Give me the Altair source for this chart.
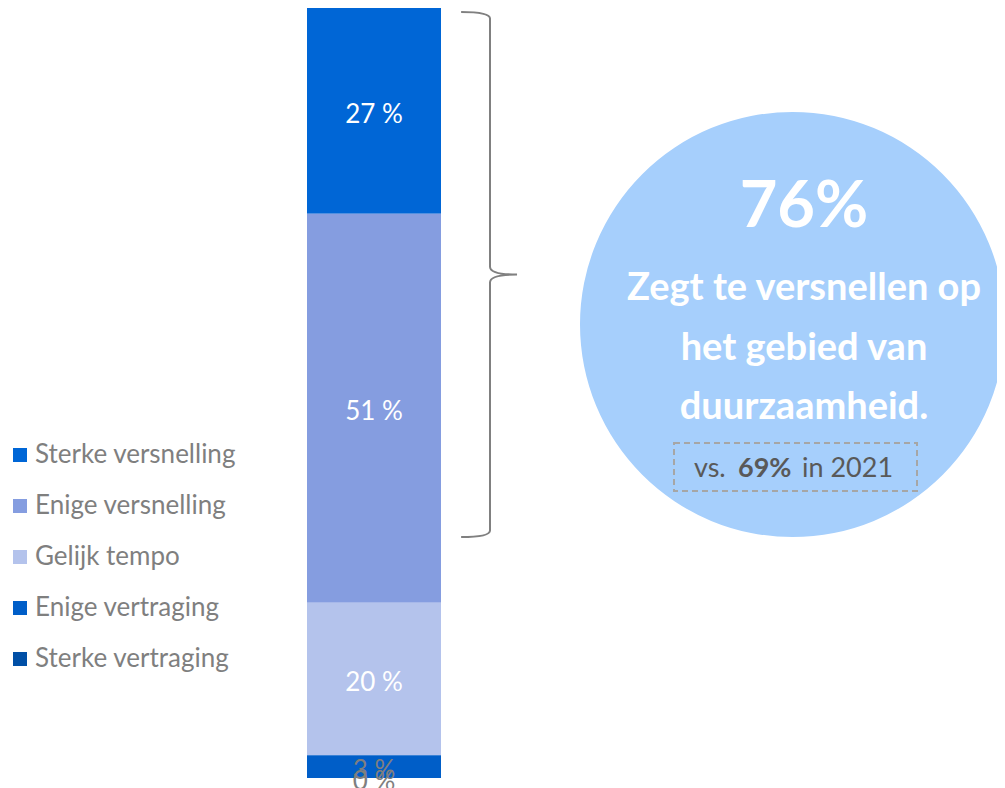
import altair as alt
import pandas as pd

categories = ["Sterke versnelling", "Enige versnelling", "Gelijk tempo", "Enige vertraging", "Sterke vertraging"]
values = [27, 51, 20, 3, 0]
stack_rank = [4, 3, 2, 1, 0]
colors = ["#0066d6", "#859de0", "#b4c3ec", "#005ec8", "#004fa6"]

headline = "76%"
circle_lines = ["Zegt te versnellen op", "het gebied van", "duurzaamheid."]
compare_parts = ["vs.", "69%", "in 2021"]

FONT = "Lato"

df = pd.DataFrame({"category": categories, "value": values, "rank": stack_rank})
one = alt.Data(values=[{}])

base = alt.Chart(df).transform_stack(
    stack="value", groupby=[], as_=["y0", "y1"], sort=[alt.SortField("rank", order="ascending")]
).transform_calculate(
    mid="(datum.y0 + datum.y1) / 2", lbl="datum.value + ' %'"
)

yscale = alt.Scale(domain=[0, 101], range=[770, 0])

bars = base.mark_rect().encode(
    x=alt.value(299),
    x2=alt.value(433),
    y=alt.Y("y0:Q", scale=yscale, axis=None),
    y2="y1:Q",
    color=alt.Color("category:N", scale=alt.Scale(domain=categories, range=colors),
                    legend=alt.Legend(title=None)),
)

labels = base.mark_text(font=FONT, fontSize=26, baseline="middle", align="center", dy=4).encode(
    x=alt.value(366),
    y=alt.Y("mid:Q", scale=yscale, axis=None),
    text="lbl:N",
    color=alt.condition("datum.value < 5", alt.value("#7f7f7f"), alt.value("#ffffff")),
)

circle = alt.Chart(one).mark_circle(size=180625, color="#a6cffc", opacity=1).encode(
    x=alt.value(784.5), y=alt.value(316.5)
)

big = alt.Chart(one).mark_text(font=FONT, fontSize=65, fontWeight="bold", color="#ffffff",
                               align="center", baseline="alphabetic").encode(
    x=alt.value(796), y=alt.value(219), text=alt.value(headline))

line_layers = []
for txt, yb in zip(circle_lines, [292, 352, 411]):
    line_layers.append(
        alt.Chart(one).mark_text(font=FONT, fontSize=38, fontWeight="bold", color="#ffffff",
                                 align="center", baseline="alphabetic").encode(
            x=alt.value(796), y=alt.value(yb), text=alt.value(txt))
    )

cmp_layers = []
for txt, xl, w in zip(compare_parts, [686, 730, 794], ["normal", "bold", "normal"]):
    cmp_layers.append(
        alt.Chart(one).mark_text(font=FONT, fontSize=27, fontWeight=w, color="#595959",
                                 align="left", baseline="alphabetic").encode(
            x=alt.value(xl), y=alt.value(469), text=alt.value(txt))
    )

box = alt.Chart(one).mark_rect(fillOpacity=0, stroke="#a6a6a6", strokeWidth=2, strokeDash=[6, 4]).encode(
    x=alt.value(666), x2=alt.value(909), y=alt.value(435), y2=alt.value(483))

brace_path = "M -0.11 -1 Q 0 -1 0 -0.975 L 0 -0.03 Q 0 0 0.103 0 Q 0 0 0 0.03 L 0 0.975 Q 0 1 -0.11 1"
brace = alt.Chart(one).mark_point(shape=brace_path, filled=False, color="#808080", strokeWidth=2,
                                  size=275625, opacity=1).encode(
    x=alt.value(482), y=alt.value(266.5))

chart = alt.layer(circle, big, *line_layers, box, *cmp_layers, brace, bars, labels).properties(
    width=989, height=780, autosize=alt.AutoSizeParams(type="none"), padding=0
).configure_view(stroke=None).configure_legend(
    orient="none", legendX=-1, legendY=434, symbolType="square", symbolSize=196,
    symbolStrokeWidth=0, labelFont=FONT, labelFontSize=26, labelColor="#7f7f7f",
    rowPadding=25, padding=0, labelOffset=2, labelLimit=400
)

chart.save("out.html", embed_options={"renderer": "svg", "actions": False})
